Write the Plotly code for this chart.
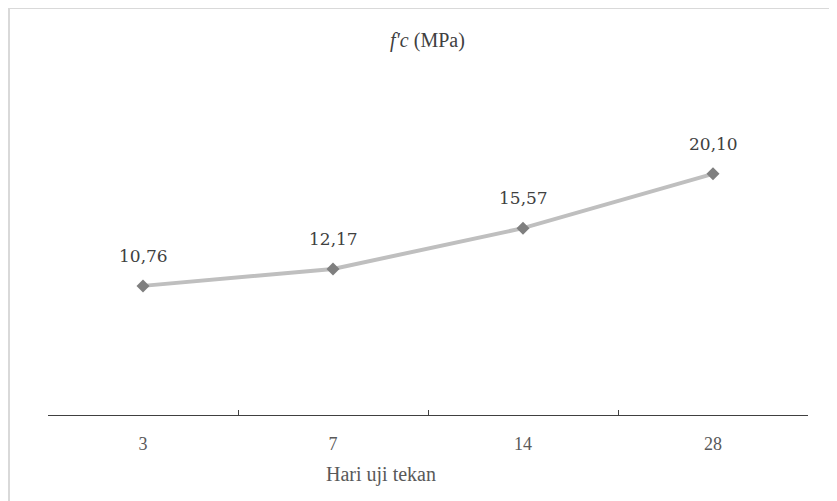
import plotly.graph_objects as go

categories = ["3", "7", "14", "28"]
values = [10.76, 12.17, 15.57, 20.10]
labels = [f"{v:.2f}".replace(".", ",") for v in values]

# page body has a small margin; figure is offset in the window
OX, OY = 8, 8
W, H = 837 - OX, 501 - OY
L, R, T, B = 48 - OX, 29, 115 - OY, 86
pw, ph = W - L - R, H - T - B

def px(xt):
    return (xt - OX - L) / pw

def py(yt):
    return (H - B - (yt - OY)) / ph

fig = go.Figure()
fig.add_trace(go.Scatter(
    x=categories, y=values, mode="lines+markers",
    line=dict(color="#bfbfbf", width=4),
    marker=dict(symbol="diamond", size=10, color="#7f7f7f"),
    hoverinfo="skip", showlegend=False,
))

annotations = []
for i, (v, t) in enumerate(zip(values, labels)):
    annotations.append(dict(x=i, y=v, text=t, showarrow=False, yshift=30,
                            font=dict(family="DejaVu Serif", size=17, color="#404040")))
annotations.append(dict(x=px(427), y=py(40), xref="paper", yref="paper",
                        xanchor="center", yanchor="middle",
                        text="<i>f'c</i> (MPa)", showarrow=False,
                        font=dict(family="Liberation Serif", size=20, color="#404040")))
annotations.append(dict(x=px(381), y=py(474), xref="paper", yref="paper",
                        xanchor="center", yanchor="middle",
                        text="Hari uji tekan", showarrow=False,
                        font=dict(family="Liberation Serif", size=20, color="#595959")))

shapes = [
    dict(type="line", xref="paper", yref="paper", x0=px(9), x1=px(9), y0=py(505), y1=py(8),
         line=dict(color="#d9d9d9", width=2)),
    dict(type="line", xref="paper", yref="paper", x0=px(8), x1=px(840), y0=py(8), y1=py(8),
         line=dict(color="#d9d9d9", width=2)),
]

fig.update_layout(
    width=W, height=H,
    margin=dict(l=L, r=R, t=T, b=B),
    paper_bgcolor="white", plot_bgcolor="white",
    annotations=annotations, shapes=shapes,
    xaxis=dict(type="category", range=[-0.5, 3.5], tickson="boundaries",
               ticks="inside", ticklen=5,
               tickcolor="#404040", showline=True, linecolor="#404040", linewidth=1.3,
               showgrid=False, zeroline=False, ticklabelstandoff=12,
               tickfont=dict(family="Liberation Serif", size=18, color="#595959")),
    yaxis=dict(range=[0, 25], visible=False, showgrid=False, zeroline=False),
)

fig.write_html("out.html")
